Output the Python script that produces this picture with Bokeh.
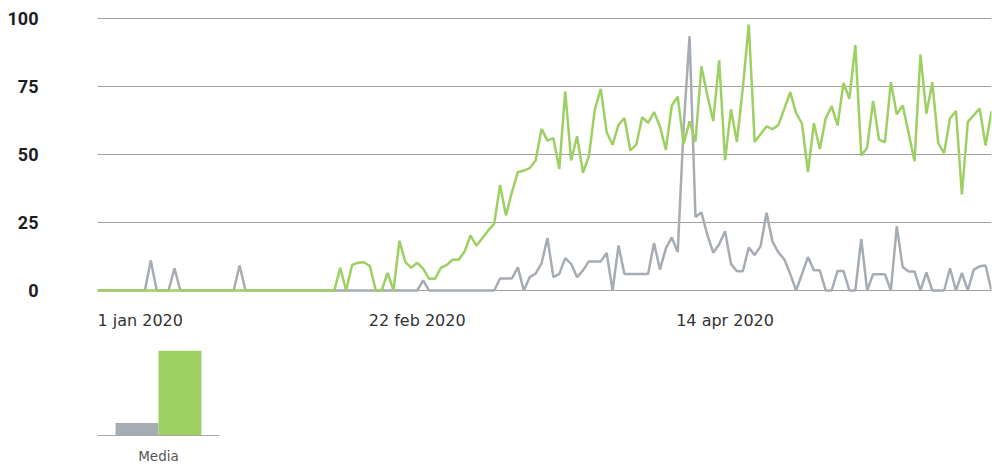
import pandas as pd
from bokeh.plotting import figure
from bokeh.models import FixedTicker, Range1d, Label, ColumnDataSource, FactorRange
from bokeh.transform import dodge
from bokeh.layouts import column
from bokeh.embed import file_html
from bokeh.resources import INLINE

# ---------------- data ----------------
start_date = "2019-12-30"
end_date = "2020-05-29"

gray = [
    0, 0, 0, 0, 0, 0, 0, 0, 0, 11.0,
    0, 0, 0, 8.2, 0, 0, 0, 0, 0, 0,
    0, 0, 0, 0, 9.2, 0, 0, 0, 0, 0,
    0, 0, 0, 0, 0, 0, 0, 0, 0, 0,
    0, 0, 0, 0, 0, 0, 0, 0, 0, 0,
    0, 0, 0, 0, 0, 3.7, 0, 0, 0, 0,
    0, 0, 0, 0, 0, 0, 0, 0, 4.4, 4.4,
    4.4, 8.5, 0, 4.9, 6.2, 10.0, 19.3, 4.9, 6.1, 11.9,
    9.8, 4.9, 7.4, 10.7, 10.7, 10.7, 13.8, 0, 16.5, 6.1,
    6.1, 6.1, 6.1, 6.1, 17.5, 7.7, 15.5, 19.5, 14.1, 60.0,
    93.5, 27.0, 28.7, 20.5, 13.9, 17.0, 21.8, 9.8, 7.1, 7.1,
    15.8, 13.0, 16.3, 28.6, 18.0, 14.0, 11.5, 6.1, 0, 6.1,
    12.3, 7.4, 7.4, 0, 0, 7.2, 7.2, 0, 0, 19.0,
    0, 6.0, 6.0, 6.0, 0, 23.6, 8.6, 7.0, 7.0, 0,
    6.7, 0, 0, 0, 8.2, 0, 6.5, 0, 7.7, 8.9,
    9.2, 0,
]

green = [
    0, 0, 0, 0, 0, 0, 0, 0, 0, 0,
    0, 0, 0, 0, 0, 0, 0, 0, 0, 0,
    0, 0, 0, 0, 0, 0, 0, 0, 0, 0,
    0, 0, 0, 0, 0, 0, 0, 0, 0, 0,
    0, 8.3, 0, 9.4, 10.2, 10.4, 9.0, 0, 0, 6.5,
    0, 18.3, 10.4, 8.3, 10.2, 8.0, 4.3, 4.3, 8.3, 9.4,
    11.3, 11.3, 14.3, 20.2, 16.5, 19.2, 22.1, 24.5, 38.8, 27.6,
    36.2, 43.5, 44.1, 45.0, 47.8, 59.4, 55.1, 56.0, 44.7, 73.2,
    47.8, 56.7, 43.3, 49.4, 66.5, 74.1, 58.2, 53.6, 60.9, 63.4,
    51.5, 53.6, 63.7, 61.6, 65.6, 60.3, 51.7, 68.0, 71.3, 53.9,
    62.2, 54.7, 82.4, 71.8, 62.3, 84.6, 47.9, 66.6, 54.6, 74.5,
    97.8, 54.6, 57.5, 60.3, 59.3, 60.8, 66.8, 72.9, 65.2, 61.3,
    43.5, 61.5, 52.0, 63.3, 67.8, 60.7, 76.3, 70.5, 90.2, 49.6,
    52.5, 69.7, 55.5, 54.5, 76.6, 64.8, 68.0, 57.9, 47.5, 86.8,
    65.0, 76.6, 54.2, 50.5, 63.3, 66.0, 35.3, 62.0, 64.5, 66.9,
    53.3, 65.9,
]

y_ticks = [0, 25, 50, 75, 100]
tick_dates = ["2020-01-01", "2020-02-22", "2020-04-14"]
tick_labels = ["1 jan 2020", "22 feb 2020", "14 apr 2020"]

media_labels = ["Media"]
media_gray = [5.2]
media_green = [35.0]

# ---------------- style ----------------
GRAY = "#a6acb3"
GREEN = "#9ecf63"
GRID = "#a0a0a0"
TXT = "#333333"

dates = pd.date_range(start_date, end_date, freq="D")
src = ColumnDataSource(dict(date=dates, gray=gray, green=green))


def ms(d):
    return pd.Timestamp(d).value / 1e6


PX_PER_UNIT = 2.72          # 272 px for 0..100
LABEL_ROW = 40              # px below the zero line reserved for x labels
LABEL_GAP = 20              # px from zero line to top of x labels
TOP_PAD = 2                 # px above the 100 line so that it is drawn

p = figure(width=992, height=330, x_axis_type="datetime",
           output_backend="svg", toolbar_location=None,
           min_border_left=97, min_border_right=1,
           min_border_top=18 - TOP_PAD, min_border_bottom=0)
p.x_range = Range1d(ms(dates[0]), ms(dates[-1]))
p.y_range = Range1d(-LABEL_ROW / PX_PER_UNIT, 100 + TOP_PAD / PX_PER_UNIT)

p.line("date", "gray", source=src, color=GRAY, line_width=2.5)
p.line("date", "green", source=src, color=GREEN, line_width=2.5)

# y axis
p.yaxis.ticker = FixedTicker(ticks=y_ticks)
p.yaxis.axis_line_color = None
p.yaxis.major_tick_line_color = None
p.yaxis.minor_tick_line_color = None
p.yaxis.major_tick_in = 0
p.yaxis.major_tick_out = 0
p.yaxis.major_label_standoff = 59
p.yaxis.major_label_text_font = "Roboto"
p.yaxis.major_label_text_font_style = "bold"
p.yaxis.major_label_text_font_size = "18px"
p.yaxis.major_label_text_color = "#1e1e1e"

# x labels (first one clamped to the chart start, like the original)
p.xaxis.visible = False
for k, (d, t) in enumerate(zip(tick_dates, tick_labels)):
    x = ms(d) if k else ms(dates[0])
    p.add_layout(Label(x=x, y=-LABEL_GAP / PX_PER_UNIT, text=t,
                       text_align="left" if k == 0 else "center",
                       text_baseline="top",
                       text_font="DejaVu Sans", text_font_size="16px",
                       text_color=TXT))

p.ygrid.ticker = FixedTicker(ticks=y_ticks)
p.ygrid.grid_line_color = GRID
p.ygrid.grid_line_width = 1
p.xgrid.grid_line_color = None
p.outline_line_color = None
p.background_fill_color = "white"
p.border_fill_color = "white"

# ---------------- bar chart (Media) ----------------
bsrc = ColumnDataSource(dict(cat=media_labels, gray=media_gray, green=media_green))
b = figure(width=220, height=136, x_range=FactorRange(factors=media_labels),
           y_range=Range1d(0, 38), output_backend="svg", toolbar_location=None,
           min_border_left=95, min_border_right=0, min_border_top=13,
           min_border_bottom=31)
b.vbar(x=dodge("cat", -0.176, range=b.x_range), top="gray", width=0.352,
       source=bsrc, color=GRAY, line_color=None)
b.vbar(x=dodge("cat", 0.176, range=b.x_range), top="green", width=0.352,
       source=bsrc, color=GREEN, line_color=None)
b.yaxis.visible = False
b.grid.visible = False
b.outline_line_color = None
b.xaxis.axis_line_color = "#a8a8a8"
b.xaxis.axis_line_width = 1
b.xaxis.major_tick_line_color = None
b.xaxis.major_tick_in = 0
b.xaxis.major_tick_out = 0
b.xaxis.major_label_standoff = 12
b.xaxis.major_label_text_font = "DejaVu Sans"
b.xaxis.major_label_text_font_size = "13.5px"
b.xaxis.major_label_text_color = "#555555"

layout = column(p, b)
open("out.html", "w").write(file_html(layout, INLINE))
